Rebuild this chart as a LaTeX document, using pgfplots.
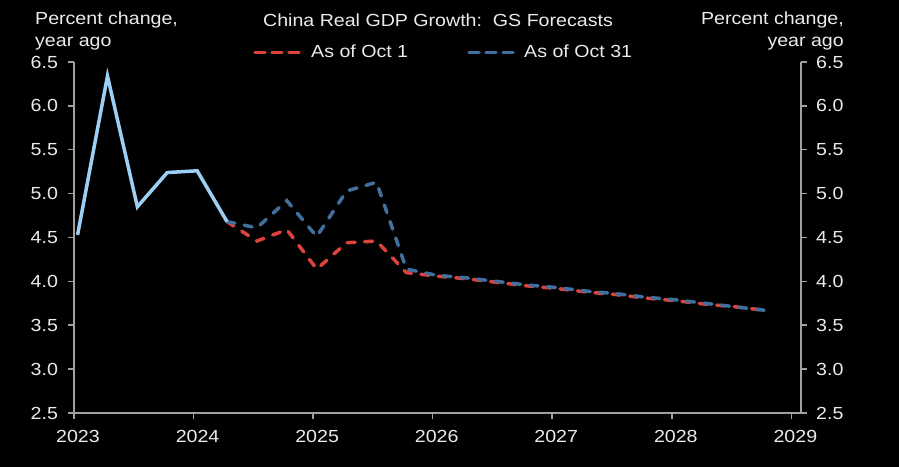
\documentclass[border=0pt]{standalone}
\usepackage{fontspec}
\setmainfont[FakeStretch=1.12]{Liberation Sans}
\usepackage{pgfplots}
\pgfplotsset{compat=1.18}
\definecolor{txt}{HTML}{EBEBEB}
\definecolor{axgray}{HTML}{A0A0A0}
\definecolor{lblue}{HTML}{9DCFF5}
\definecolor{gsred}{HTML}{DC433D}
\definecolor{gsblue}{HTML}{41709F}
\begin{document}
\begin{tikzpicture}[x=1bp,y=1bp,font=\fontsize{17.5bp}{20bp}\selectfont]
\fill[black] (0,0) rectangle (899,467);
\pgfplotsset{
  common/.style={
    at={(74bp,54bp)}, anchor=south west, scale only axis,
    width=727bp, height=351bp,
    xmin=2023, xmax=2029.08, ymin=2.5, ymax=6.5,
    ytick={2.5,3,...,6.5},
    tick align=outside, major tick length=6bp,
    every tick/.style={draw=axgray, line width=1.5bp},
    axis line style={draw=axgray, line width=1.5bp, -},
    ticklabel style={text=txt, font=\fontsize{17.5bp}{20bp}\selectfont},
    /pgf/number format/assume math mode=true,
    yticklabel={\pgfmathprintnumber[fixed,fixed zerofill,precision=1]{\tick}},
    clip=false,
  },
  dashline/.style={line width=3.5bp, line cap=round, dash pattern=on 8bp off 9.5bp},
}
\begin{axis}[common,
  axis x line*=bottom, axis y line*=left,
  xtick={2023,...,2029},
  xticklabel={\pgfmathprintnumber[1000 sep={},fixed,precision=0]{\tick}},
  yticklabel style={xshift=-6.5bp},
  xticklabel style={yshift=-8bp, xshift=4bp},
]
\addplot[gsred, dashline] coordinates {
(2024.28,4.68)(2024.53,4.46)(2024.78,4.59)(2025.03,4.14)(2025.28,4.44)(2025.53,4.46)
(2025.78,4.10)(2026.03,4.06)(2026.28,4.03)(2026.53,3.99)(2026.78,3.95)(2027.03,3.92)
(2027.28,3.88)(2027.53,3.85)(2027.78,3.81)(2028.03,3.78)(2028.28,3.74)(2028.53,3.71)(2028.78,3.67)};
\addplot[gsblue, dashline] coordinates {
(2024.28,4.68)(2024.53,4.61)(2024.78,4.92)(2025.03,4.51)(2025.28,5.03)(2025.53,5.13)
(2025.78,4.14)(2026.03,4.07)(2026.28,4.04)(2026.53,4.00)(2026.78,3.96)(2027.03,3.93)
(2027.28,3.89)(2027.53,3.86)(2027.78,3.82)(2028.03,3.79)(2028.28,3.75)(2028.53,3.71)(2028.78,3.67)};
\addplot[lblue, line width=3.5bp] coordinates {
(2023.03,4.53)(2023.28,6.34)(2023.53,4.85)(2023.78,5.24)(2024.03,5.26)(2024.28,4.68)};
\end{axis}
\begin{axis}[common,
  axis x line=none, axis y line*=right,
  yticklabel style={xshift=5.7bp},
]
\addplot[draw=none] coordinates {(2023,2.5)};
\end{axis}
% titles and labels
\node[anchor=base west, text=txt, inner sep=0] at (35,442) {Percent change,};
\node[anchor=base west, text=txt, inner sep=0] at (35,420) {year ago};
\node[anchor=base east, text=txt, inner sep=0] at (844,442) {Percent change,};
\node[anchor=base east, text=txt, inner sep=0] at (844,420) {year ago};
\node[anchor=base, text=txt, inner sep=0] at (438,440) {China Real GDP Growth:\ \ GS Forecasts};
% legend
\draw[gsred, line width=3.5bp, line cap=round, dash pattern=on 10bp off 7bp] (255,414.3) -- (301,414.3);
\node[anchor=base west, text=txt, inner sep=0] at (311,409.7) {As of Oct 1};
\draw[gsblue, line width=3.5bp, line cap=round, dash pattern=on 10bp off 7bp] (469,414.3) -- (515,414.3);
\node[anchor=base west, text=txt, inner sep=0] at (524,409.7) {As of Oct 31};
\pgfresetboundingbox
\path[use as bounding box] (0,0) rectangle (899,467);
\end{tikzpicture}
\end{document}
